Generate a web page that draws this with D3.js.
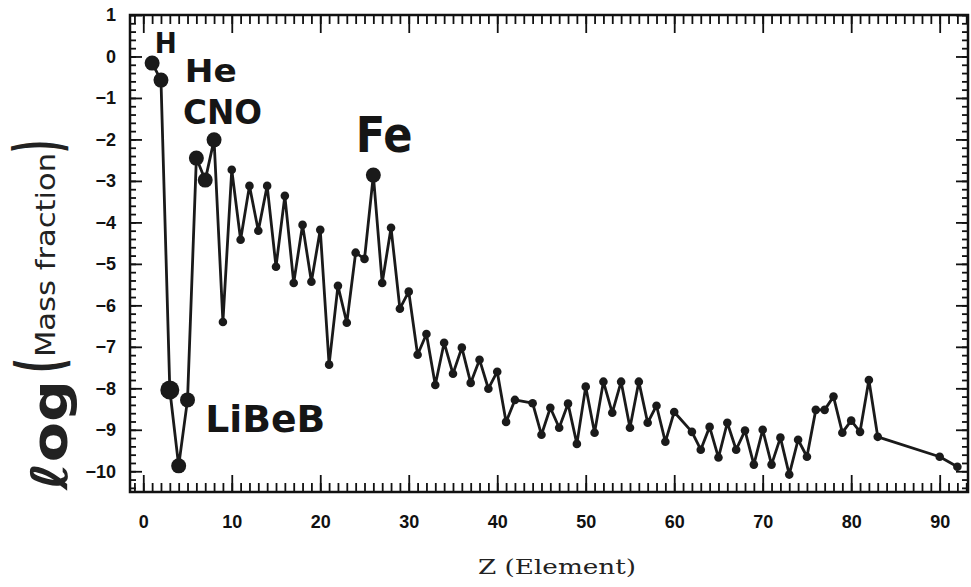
<!DOCTYPE html>
<html>
<head>
<meta charset="utf-8">
<script src="https://cdn.jsdelivr.net/npm/d3@7"></script>
<style>
  body { margin: 0; background: #fff; }
</style>
</head>
<body>
<div id="chart"></div>
<script>
// solar abundances, log10 of mass fraction
var zValues = [1, 2, 3, 4, 5, 6, 7, 8, 9, 10,
  11, 12, 13, 14, 15, 16, 17, 18, 19, 20,
  21, 22, 23, 24, 25, 26, 27, 28, 29, 30,
  31, 32, 33, 34, 35, 36, 37, 38, 39, 40,
  41, 42, 44, 45, 46, 47, 48, 49, 50,
  51, 52, 53, 54, 55, 56, 57, 58, 59, 60,
  62, 63, 64, 65, 66, 67, 68, 69, 70,
  71, 72, 73, 74, 75, 76, 77, 78, 79, 80,
  81, 82, 83, 90, 92];
var logMass = [-0.16, -0.57, -8.04, -9.87, -8.28, -2.45, -2.98, -2.01, -6.40, -2.73,
  -4.42, -3.12, -4.20, -3.12, -5.07, -3.36, -5.46, -4.06, -5.43, -4.18,
  -7.43, -5.53, -6.42, -4.73, -4.88, -2.86, -5.46, -4.13, -6.08, -5.67,
  -7.19, -6.69, -7.92, -6.90, -7.65, -7.02, -7.87, -7.31, -8.01, -7.60,
  -8.81, -8.28, -8.36, -9.12, -8.47, -8.95, -8.37, -9.34, -7.96,
  -9.07, -7.84, -8.59, -7.84, -8.95, -7.84, -8.83, -8.42, -9.29, -8.57,
  -9.05, -9.48, -8.93, -9.67, -8.83, -9.48, -9.02, -9.84, -9.00,
  -9.84, -9.19, -10.08, -9.24, -9.65, -8.52, -8.52, -8.20, -9.07, -8.78,
  -9.05, -7.80, -9.17, -9.65, -9.89];
var highlighted = [1, 2, 3, 4, 5, 6, 7, 8, 26];
var xTickLabels = [0, 10, 20, 30, 40, 50, 60, 70, 80, 90];
var yTickLabels = [1, 0, -1, -2, -3, -4, -5, -6, -7, -8, -9, -10];
var groupNames = ["H", "He", "CNO", "Fe", "LiBeB"];

var width = 971, height = 587;
var boxL = 130, boxR = 968, boxT = 15, boxB = 492;

var svg = d3.select("#chart").append("svg")
    .attr("width", width)
    .attr("height", height)
    .style("font-family", "'Liberation Sans', Arial, sans-serif");

var x = d3.scaleLinear().domain([-1.5, 93.2]).range([boxL, boxR]);
var y = d3.scaleLinear().domain([-10.5, 1]).range([boxB, boxT]);

var data = zValues.map(function(z, i) { return {z: z, v: logMass[i]}; });

// ticks, all pointing into the box
function styleAxis(g) {
  g.select(".domain").remove();
  g.selectAll(".tick line").attr("stroke", "#111").attr("stroke-width", 1.8);
  g.selectAll("text").attr("fill", "#111").style("font-size", "18px").style("font-weight", "bold");
}

var minorX = d3.range(-1, 94);
var minorY = d3.range(-52, 6).map(function(i) { return i / 5; });

svg.append("g").attr("transform", "translate(0," + boxB + ")")
    .call(d3.axisBottom(x).tickValues(minorX).tickSize(-9).tickFormat(""))
    .call(styleAxis);
svg.append("g").attr("transform", "translate(0," + boxB + ")")
    .call(d3.axisBottom(x).tickValues(xTickLabels).tickSize(-17).tickPadding(23))
    .call(styleAxis);
svg.append("g").attr("transform", "translate(0," + boxT + ")")
    .call(d3.axisTop(x).tickValues(minorX).tickSize(-9).tickFormat(""))
    .call(styleAxis);
svg.append("g").attr("transform", "translate(0," + boxT + ")")
    .call(d3.axisTop(x).tickValues(xTickLabels).tickSize(-18).tickFormat(""))
    .call(styleAxis);

svg.append("g").attr("transform", "translate(" + boxL + ",0)")
    .call(d3.axisLeft(y).tickValues(minorY).tickSize(-6).tickFormat(""))
    .call(styleAxis);
svg.append("g").attr("transform", "translate(" + boxL + ",0)")
    .call(d3.axisLeft(y).tickValues(yTickLabels).tickSize(-12).tickPadding(14))
    .call(styleAxis);
svg.append("g").attr("transform", "translate(" + boxR + ",0)")
    .call(d3.axisRight(y).tickValues(minorY).tickSize(-6).tickFormat(""))
    .call(styleAxis);
svg.append("g").attr("transform", "translate(" + boxR + ",0)")
    .call(d3.axisRight(y).tickValues(yTickLabels).tickSize(-12).tickFormat(""))
    .call(styleAxis);

svg.append("rect")
    .attr("x", boxL).attr("y", boxT)
    .attr("width", boxR - boxL).attr("height", boxB - boxT)
    .attr("fill", "none").attr("stroke", "#111").attr("stroke-width", 2.5);

// the abundance curve
var line = d3.line()
    .x(function(d) { return x(d.z); })
    .y(function(d) { return y(d.v); });

svg.append("path")
    .datum(data)
    .attr("d", line)
    .attr("fill", "none")
    .attr("stroke", "#1a1a1a")
    .attr("stroke-width", 2.8)
    .attr("stroke-linejoin", "round");

svg.selectAll("circle.pt")
    .data(data)
  .enter().append("circle")
    .attr("class", "pt")
    .attr("cx", function(d) { return x(d.z); })
    .attr("cy", function(d) { return y(d.v); })
    .attr("r", function(d) {
      if (d.z == 3) return 9.5;
      return highlighted.indexOf(d.z) >= 0 ? 7.5 : 4.3;
    })
    .attr("fill", "#1a1a1a");

// group labels, anchored in data units
var annot = [
  {z: 1.3, v: 0.08, size: 29, len: 22},
  {z: 4.7, v: -0.61, size: 32, len: 52},
  {z: 4.5, v: -1.63, size: 33, len: 79},
  {z: 24.0, v: -2.30, size: 50, len: 57},
  {z: 7.0, v: -9.05, size: 38, len: 120}
];
svg.selectAll("text.grp")
    .data(annot)
  .enter().append("text")
    .attr("class", "grp")
    .attr("x", function(d) { return x(d.z); })
    .attr("y", function(d) { return y(d.v); })
    .attr("textLength", function(d) { return d.len; })
    .attr("lengthAdjust", "spacingAndGlyphs")
    .style("font-family", "'DejaVu Sans', sans-serif")
    .style("font-weight", "bold")
    .style("font-size", function(d) { return d.size + "px"; })
    .attr("fill", "#151515")
    .text(function(d, i) { return groupNames[i]; });

// x axis title
svg.append("text")
    .attr("x", 557).attr("y", 574)
    .attr("text-anchor", "middle")
    .attr("textLength", 158)
    .attr("lengthAdjust", "spacingAndGlyphs")
    .style("font-family", "'DejaVu Serif', serif")
    .style("font-size", "21px")
    .attr("fill", "#222")
    .text("Z (Element)");

// y axis title: log( Mass fraction )
var ylab = [
  {t: "\u2113og", bx: 67, ys: 490, size: 50, len: 110, w: "bold"},
  {t: "(", bx: 62, ys: 373, size: 64, len: 15, w: "bold"},
  {t: "Mass fraction", bx: 55, ys: 357, size: 27, len: 204, w: "normal"},
  {t: ")", bx: 60, ys: 153, size: 64, len: 13, w: "bold"}
];
svg.selectAll("text.ylab")
    .data(ylab)
  .enter().append("text")
    .attr("class", "ylab")
    .attr("transform", function(d) { return "translate(" + d.bx + "," + d.ys + ") rotate(-90)"; })
    .attr("textLength", function(d) { return d.len; })
    .attr("lengthAdjust", "spacingAndGlyphs")
    .style("font-family", "'DejaVu Sans', sans-serif")
    .style("font-weight", function(d) { return d.w; })
    .style("font-size", function(d) { return d.size + "px"; })
    .attr("fill", "#222")
    .text(function(d) { return d.t; });
</script>
</body>
</html>
